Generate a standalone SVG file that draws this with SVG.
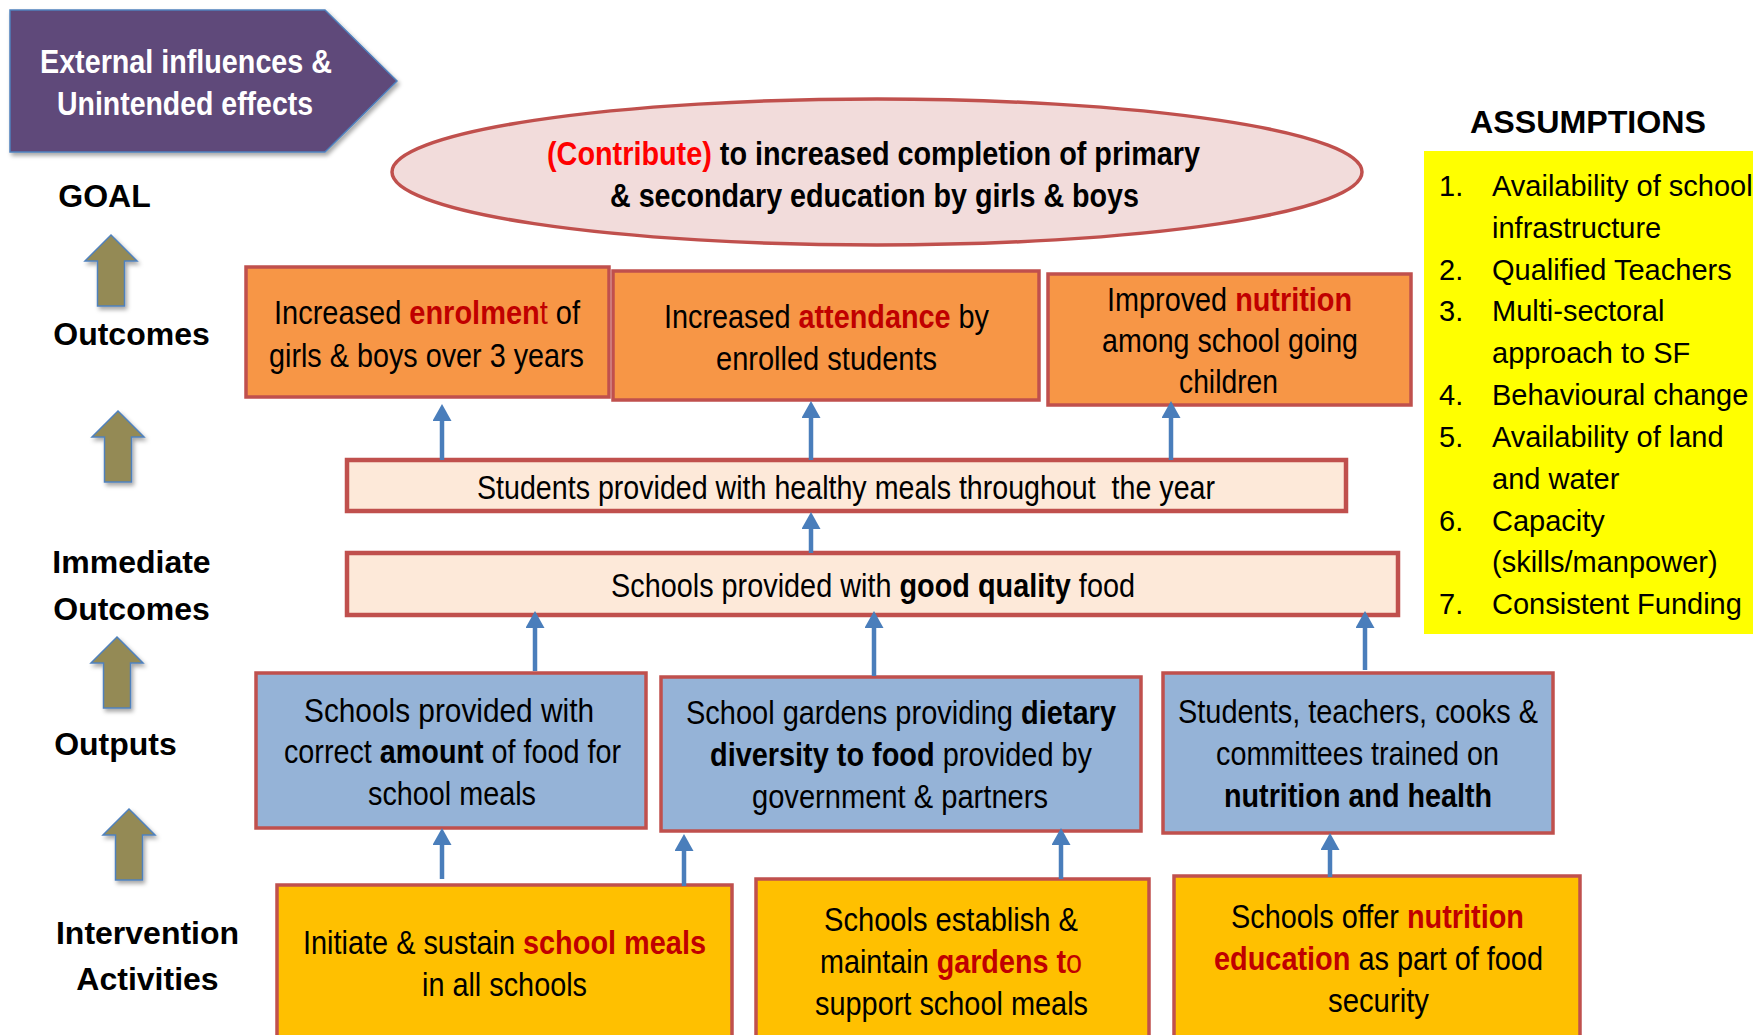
<svg xmlns="http://www.w3.org/2000/svg" width="1753" height="1035" viewBox="0 0 1753 1035">
  <style>
    text { font-family: "Liberation Sans", Arial, sans-serif; fill: #000; }
    .lbl { font-size: 32px; font-weight: bold; text-anchor: middle; }
    .box { font-size: 34px; text-anchor: middle; }
    .goal { font-size: 33px; font-weight: bold; text-anchor: middle; }
    .ext { font-size: 34px; font-weight: bold; text-anchor: middle; fill: #fff; }
    .asm { font-size: 29px; }
    .b { font-weight: bold; }
    .red { fill: #C00000; }
    .rb { fill: #C00000; font-weight: bold; }
    .outcome { fill: #F79646; stroke: #C0504D; stroke-width: 3.5; }
    .immediate { fill: #FDE9D9; stroke: #C0504D; stroke-width: 4.5; }
    .output { fill: #95B3D7; stroke: #C0504D; stroke-width: 3.5; }
    .activity { fill: #FFC000; stroke: #C0504D; stroke-width: 3.5; }
    .level-arrow { fill: #948A54; stroke: #4F81BD; stroke-width: 1.5; }
    .link { fill: none; stroke: #4A7EBB; stroke-width: 4.5; marker-end: url(#head); }
  </style>
  <defs>
    <marker id="head" markerUnits="userSpaceOnUse" markerWidth="18" markerHeight="19" viewBox="0 0 17 19" refX="2" refY="9.5" orient="auto">
      <path d="M0,0 L17,9.5 L0,19 z" fill="#4A7EBB"/>
    </marker>
    <filter id="shadow" x="-20%" y="-20%" width="150%" height="150%">
      <feDropShadow dx="2" dy="3" stdDeviation="2" flood-color="#000" flood-opacity="0.35"/>
    </filter>
    <path id="level-arrow-shape" d="M0,0 L26,26 L13.5,26 L13.5,71 L-13.5,71 L-13.5,26 L-26,26 z"/>
  </defs>

  <rect width="1753" height="1035" fill="#fff"/>

  <!-- banner -->
  <g id="external-influences">
    <polygon points="10,10 325,10 397,81 325,152 10,152" fill="#5F497A" stroke="#4F81BD" stroke-width="1.5" filter="url(#shadow)"/>
    <text class="ext" x="186" y="73" textLength="292" lengthAdjust="spacingAndGlyphs">External influences &amp;</text>
    <text class="ext" x="185" y="115" textLength="256" lengthAdjust="spacingAndGlyphs">Unintended effects</text>
  </g>

  <!-- level labels on the left -->
  <g id="level-labels">
    <text class="lbl" x="104.5" y="207">GOAL</text>
    <text class="lbl" x="131.5" y="345">Outcomes</text>
    <text class="lbl" x="131.5" y="573">Immediate</text>
    <text class="lbl" x="131.5" y="620">Outcomes</text>
    <text class="lbl" x="115.5" y="755">Outputs</text>
    <text class="lbl" x="147.5" y="944">Intervention</text>
    <text class="lbl" x="147.5" y="990">Activities</text>
  </g>
  <g id="level-arrows" filter="url(#shadow)">
    <use href="#level-arrow-shape" class="level-arrow" x="111" y="235"/>
    <use href="#level-arrow-shape" class="level-arrow" x="118" y="411"/>
    <use href="#level-arrow-shape" class="level-arrow" x="117" y="637"/>
    <use href="#level-arrow-shape" class="level-arrow" x="129" y="809"/>
  </g>

  <!-- goal -->
  <g id="goal">
    <ellipse cx="877" cy="172" rx="485" ry="73" fill="#F2DCDB" stroke="#C0504D" stroke-width="3.5"/>
    <text class="goal" x="873.5" y="165" textLength="653" lengthAdjust="spacingAndGlyphs"><tspan fill="#FF0000">(Contribute)</tspan> to increased completion of primary</text>
    <text class="goal" x="874.5" y="207" textLength="529" lengthAdjust="spacingAndGlyphs">&amp; secondary education by girls &amp; boys</text>
  </g>

  <!-- outcomes -->
  <g id="outcome-enrolment">
    <rect class="outcome" x="246" y="267" width="363" height="130"/>
    <text class="box" x="427" y="324" textLength="306" lengthAdjust="spacingAndGlyphs">Increased <tspan class="rb">enrolmen</tspan><tspan class="red">t</tspan> of</text>
    <text class="box" x="426.5" y="367" textLength="315" lengthAdjust="spacingAndGlyphs">girls &amp; boys over 3 years</text>
  </g>
  <g id="outcome-attendance">
    <rect class="outcome" x="613" y="271" width="426" height="129"/>
    <text class="box" x="826.5" y="328" textLength="325" lengthAdjust="spacingAndGlyphs">Increased <tspan class="rb">attendance</tspan> by</text>
    <text class="box" x="826.5" y="370" textLength="221" lengthAdjust="spacingAndGlyphs">enrolled students</text>
  </g>
  <g id="outcome-nutrition">
    <rect class="outcome" x="1048" y="274" width="363" height="131"/>
    <text class="box" x="1229.5" y="311" textLength="245" lengthAdjust="spacingAndGlyphs">Improved <tspan class="rb">nutrition</tspan></text>
    <text class="box" x="1230" y="352" textLength="256" lengthAdjust="spacingAndGlyphs">among school going</text>
    <text class="box" x="1228.5" y="393" textLength="99" lengthAdjust="spacingAndGlyphs">children</text>
  </g>

  <!-- immediate outcomes -->
  <g id="healthy-meals">
    <rect class="immediate" x="347" y="460" width="999" height="51"/>
    <text class="box" x="846" y="499" textLength="738" lengthAdjust="spacingAndGlyphs">Students provided with healthy meals throughout&#160; the year</text>
  </g>
  <g id="good-quality-food">
    <rect class="immediate" x="347" y="553" width="1051" height="62"/>
    <text class="box" x="873" y="597" textLength="524" lengthAdjust="spacingAndGlyphs">Schools provided with <tspan class="b">good quality</tspan> food</text>
  </g>

  <!-- outputs -->
  <g id="output-amount">
    <rect class="output" x="256" y="673" width="390" height="155"/>
    <text class="box" x="449" y="722" textLength="290" lengthAdjust="spacingAndGlyphs">Schools provided with</text>
    <text class="box" x="452.5" y="763" textLength="337" lengthAdjust="spacingAndGlyphs">correct <tspan class="b">amount</tspan> of food for</text>
    <text class="box" x="452" y="805" textLength="168" lengthAdjust="spacingAndGlyphs">school meals</text>
  </g>
  <g id="output-gardens">
    <rect class="output" x="661" y="677" width="480" height="154"/>
    <text class="box" x="901" y="724" textLength="430" lengthAdjust="spacingAndGlyphs">School gardens providing <tspan class="b">dietary</tspan></text>
    <text class="box" x="901" y="766" textLength="382" lengthAdjust="spacingAndGlyphs"><tspan class="b">diversity to food</tspan> provided by</text>
    <text class="box" x="900" y="808" textLength="296" lengthAdjust="spacingAndGlyphs">government &amp; partners</text>
  </g>
  <g id="output-training">
    <rect class="output" x="1163" y="673" width="390" height="160"/>
    <text class="box" x="1358" y="723" textLength="360" lengthAdjust="spacingAndGlyphs">Students, teachers, cooks &amp;</text>
    <text class="box" x="1357.5" y="765" textLength="283" lengthAdjust="spacingAndGlyphs">committees trained on</text>
    <text class="box b" x="1358" y="807" textLength="268" lengthAdjust="spacingAndGlyphs">nutrition and health</text>
  </g>

  <!-- intervention activities -->
  <g id="activity-meals">
    <rect class="activity" x="277" y="885" width="455" height="170"/>
    <text class="box" x="504.5" y="954" textLength="403" lengthAdjust="spacingAndGlyphs">Initiate &amp; sustain <tspan class="rb">school meals</tspan></text>
    <text class="box" x="504.5" y="996" textLength="165" lengthAdjust="spacingAndGlyphs">in all schools</text>
  </g>
  <g id="activity-gardens">
    <rect class="activity" x="756" y="879" width="393" height="176"/>
    <text class="box" x="951" y="931" textLength="254" lengthAdjust="spacingAndGlyphs">Schools establish &amp;</text>
    <text class="box" x="951" y="973" textLength="262" lengthAdjust="spacingAndGlyphs">maintain <tspan class="rb">gardens t</tspan><tspan class="red">o</tspan></text>
    <text class="box" x="951.5" y="1015" textLength="273" lengthAdjust="spacingAndGlyphs">support school meals</text>
  </g>
  <g id="activity-education">
    <rect class="activity" x="1174" y="876" width="406" height="179"/>
    <text class="box" x="1377.5" y="928" textLength="293" lengthAdjust="spacingAndGlyphs">Schools offer <tspan class="rb">nutrition</tspan></text>
    <text class="box" x="1378.5" y="970" textLength="329" lengthAdjust="spacingAndGlyphs"><tspan class="rb">education</tspan> as part of food</text>
    <text class="box" x="1378.5" y="1012" textLength="101" lengthAdjust="spacingAndGlyphs">security</text>
  </g>

  <!-- assumptions -->
  <g id="assumptions">
    <text class="lbl" x="1588" y="133" textLength="236" lengthAdjust="spacingAndGlyphs">ASSUMPTIONS</text>
    <rect x="1424" y="151" width="340" height="483" fill="#FFFF00"/>
    <g class="asm">
      <text class="asm" x="1439" y="196">1.</text>
      <text class="asm" x="1492" y="196">Availability of school</text>
      <text class="asm" x="1492" y="238">infrastructure</text>
      <text class="asm" x="1439" y="280">2.</text>
      <text class="asm" x="1492" y="280">Qualified Teachers</text>
      <text class="asm" x="1439" y="321">3.</text>
      <text class="asm" x="1492" y="321">Multi-sectoral</text>
      <text class="asm" x="1492" y="363">approach to SF</text>
      <text class="asm" x="1439" y="405">4.</text>
      <text class="asm" x="1492" y="405">Behavioural change</text>
      <text class="asm" x="1439" y="447">5.</text>
      <text class="asm" x="1492" y="447">Availability of land</text>
      <text class="asm" x="1492" y="489">and water</text>
      <text class="asm" x="1439" y="531">6.</text>
      <text class="asm" x="1492" y="531">Capacity</text>
      <text class="asm" x="1492" y="572">(skills/manpower)</text>
      <text class="asm" x="1439" y="614">7.</text>
      <text class="asm" x="1492" y="614">Consistent Funding</text>
    </g>
  </g>

  <!-- connectors: each path ends 15px short of the arrow tip -->
  <g id="connectors">
    <path class="link" d="M442,460 V419"/>
    <path class="link" d="M811,460 V416"/>
    <path class="link" d="M1171,460 V416"/>
    <path class="link" d="M811,553 V527"/>
    <path class="link" d="M535,671 V626"/>
    <path class="link" d="M874,676 V626"/>
    <path class="link" d="M1365,670 V626"/>
    <path class="link" d="M442,879 V843"/>
    <path class="link" d="M684,886 V849"/>
    <path class="link" d="M1061,879 V843"/>
    <path class="link" d="M1330,877 V848"/>
  </g>
</svg>
